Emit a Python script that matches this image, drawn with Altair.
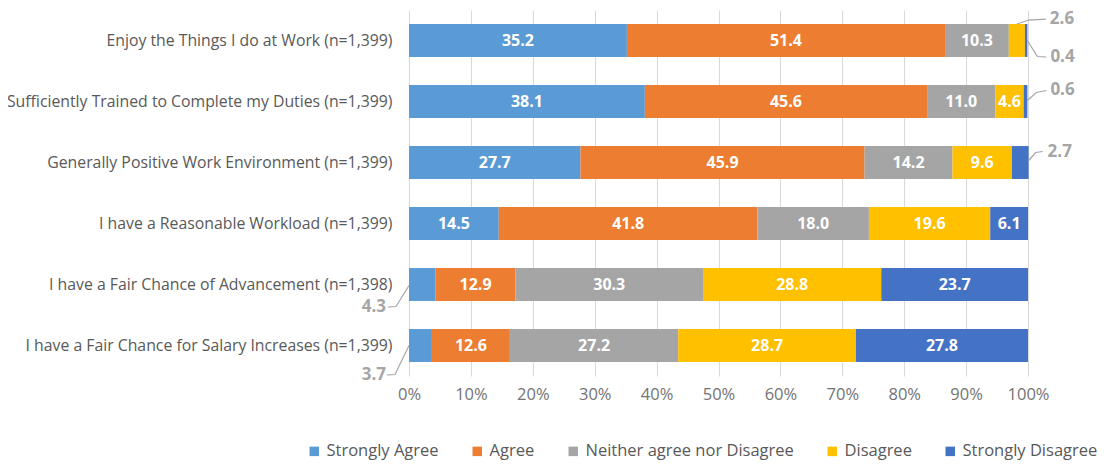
import altair as alt
import pandas as pd

categories = [
    "Enjoy the Things I do at Work (n=1,399)",
    "Sufficiently Trained to Complete my Duties (n=1,399)",
    "Generally Positive Work Environment (n=1,399)",
    "I have a Reasonable Workload (n=1,399)",
    "I have a Fair Chance of Advancement (n=1,398)",
    "I have a Fair Chance for Salary Increases (n=1,399)",
]
series = ["Strongly Agree", "Agree", "Neither agree nor Disagree", "Disagree", "Strongly Disagree"]
strongly_agree = [35.2, 38.1, 27.7, 14.5, 4.3, 3.7]
agree = [51.4, 45.6, 45.9, 41.8, 12.9, 12.6]
neither = [10.3, 11.0, 14.2, 18.0, 30.3, 27.2]
disagree = [2.6, 4.6, 9.6, 19.6, 28.8, 28.7]
strongly_disagree = [0.4, 0.6, 2.7, 6.1, 23.7, 27.8]
colors = ["#5B9BD5", "#ED7D31", "#A5A5A5", "#FFC000", "#4472C4"]
tick_values = [0, 10, 20, 30, 40, 50, 60, 70, 80, 90, 100]

W, H = 619, 366
PX = W / 100.0
PY = H / 6.0
FONT = "Open Sans"

cols = [strongly_agree, agree, neither, disagree, strongly_disagree]
rows = []
for i, cat in enumerate(categories):
    start = 0.0
    for j, s in enumerate(series):
        v = cols[j][i]
        rows.append(dict(cat=cat, row=i, series=s, order=j, value=v,
                         x0=start, x1=start + v, mid=start + v / 2,
                         y0=i - 0.27, y1=i + 0.27,
                         label=f"{v:.1f}", inside=v >= 4.5))
        start += v
df = pd.DataFrame(rows)

# outside labels: (row, series index, anchor, leader offsets px, text offset px, align)
outside = [
    (0, 3, "top", [(0, 0), (12, -4), (29, -5)], (33, -5), "left"),
    (0, 4, "end", [(0, 0), (10, 16), (19, 16.5)], (23, 16.5), "left"),
    (1, 4, "end", [(0, -1), (9, -9), (19, -11)], (23, -11.5), "left"),
    (2, 4, "end", [(0, -2), (7, -10), (14, -11)], (19, -10.5), "left"),
    (4, 0, "start", [(0, 1), (-13, 22), (-21, 22.5)], (-23, 22.5), "right"),
    (5, 0, "start", [(0, 0), (-14, 29), (-22, 29.5)], (-23, 29.5), "right"),
]
lead_rows, text_rows = [], []
for k, (r, s, anchor, pts, toff, align) in enumerate(outside):
    rec = df[(df.row == r) & (df.order == s)].iloc[0]
    if anchor == "top":
        ax, ay = rec.mid, r - 0.27
    elif anchor == "end":
        ax, ay = df[df.row == r].x1.max(), r
    else:
        ax, ay = 0.0, r
    for p, (dx, dy) in enumerate(pts):
        lead_rows.append(dict(id=k, p=p, x=ax + dx / PX, y=ay + dy / PY))
    text_rows.append(dict(x=ax + toff[0] / PX, y=ay + toff[1] / PY,
                          label=rec.label, align=align))
leads = pd.DataFrame(lead_rows)
texts = pd.DataFrame(text_rows)

label_expr = "[" + ",".join("'" + c + "'" for c in categories) + "][datum.value]"

xscale = alt.Scale(domain=[0, 100], nice=False)
yscale = alt.Scale(domain=[-0.5, 5.5], reverse=True, nice=False, zero=False)

bars = alt.Chart(df).mark_bar().encode(
    x=alt.X("x0:Q", scale=xscale,
            axis=alt.Axis(values=tick_values, labelExpr="datum.value + '%'", title=None,
                          grid=True, gridColor="#D9D9D9", domain=False, ticks=False,
                          labelFont=FONT, labelFontSize=16.5, labelColor="#737373",
                          labelPadding=10, labelFlush=False, labelOverlap=False)),
    x2="x1:Q",
    y=alt.Y("y0:Q", scale=yscale,
            axis=alt.Axis(values=list(range(6)), labelExpr=label_expr, title=None,
                          grid=False, domain=False, ticks=False,
                          labelFont=FONT, labelFontSize=15.8, labelColor="#595959",
                          labelPadding=17, labelLimit=0)),
    y2="y1:Q",
    color=alt.Color("series:N", scale=alt.Scale(domain=series, range=colors),
                    sort=series,
                    legend=alt.Legend(title=None, orient="none", direction="horizontal",
                                      legendX=-103, legendY=433,
                                      symbolType="square", symbolSize=90,
                                      symbolStrokeWidth=0, labelLimit=0,
                                      labelFont=FONT, labelFontSize=16.5,
                                      labelColor="#595959", columnPadding=30,
                                      labelOffset=4)),
)

inner = alt.Chart(df).transform_filter("datum.inside").mark_text(
    color="white", fontWeight="bold", font=FONT, fontSize=16, baseline="middle", align="center"
).encode(x="mid:Q", y="row:Q", text="label:N")

lines = alt.Chart(leads).mark_line(color="#A5A5A5", strokeWidth=1.2).encode(
    x="x:Q", y="y:Q", detail="id:N", order="p:Q")

out_left = alt.Chart(texts).transform_filter("datum.align == 'left'").mark_text(
    color="#A5A5A5", fontWeight="bold", font=FONT, fontSize=17, baseline="middle", align="left"
).encode(x="x:Q", y="y:Q", text="label:N")
out_right = alt.Chart(texts).transform_filter("datum.align == 'right'").mark_text(
    color="#A5A5A5", fontWeight="bold", font=FONT, fontSize=17, baseline="middle", align="right"
).encode(x="x:Q", y="y:Q", text="label:N")

chart = alt.layer(bars, inner, lines, out_left, out_right).properties(
    width=W, height=H,
    autosize=alt.AutoSizeParams(type="none"),
    padding={"left": 401, "top": 2, "right": 70, "bottom": 88},
    background="white",
).configure_view(stroke=None)

chart.save("out.html", embed_options={"renderer": "svg", "actions": False})
